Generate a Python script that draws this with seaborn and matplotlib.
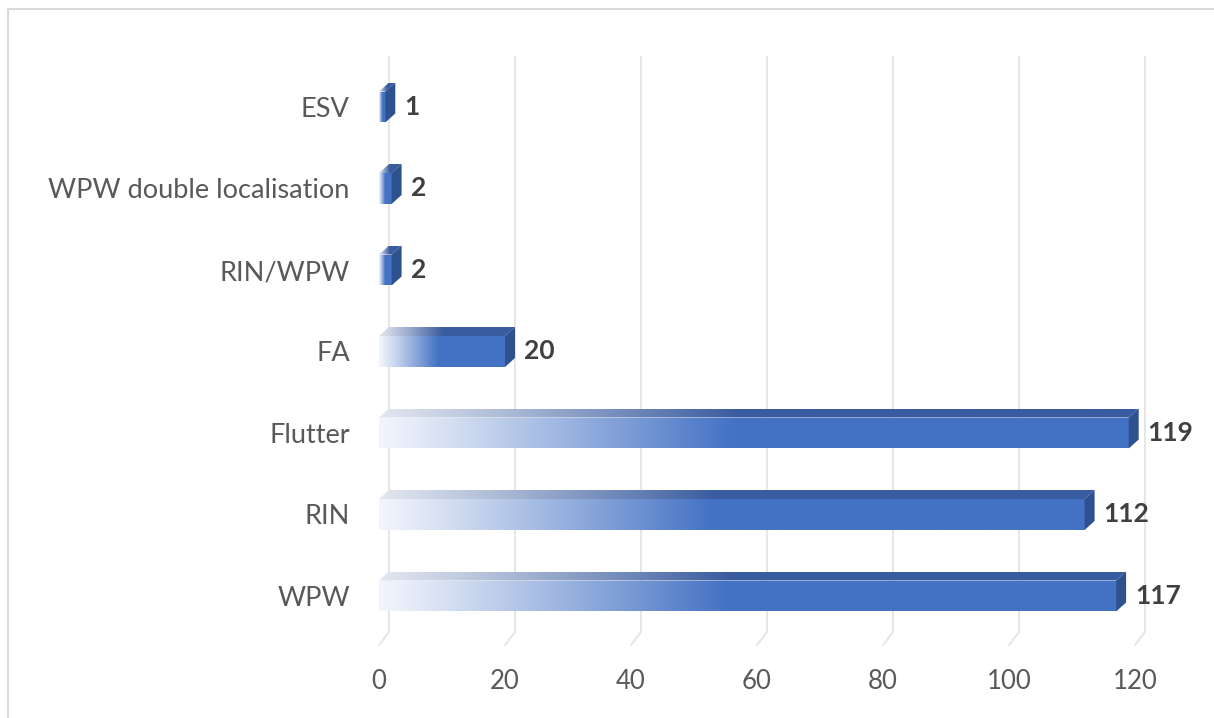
import numpy as np
import pandas as pd
import matplotlib
matplotlib.use("Agg")
import matplotlib.pyplot as plt
from matplotlib.patches import Polygon
from matplotlib.lines import Line2D
from matplotlib.colors import to_rgb
import seaborn as sns

# Data
categories = ["ESV", "WPW double localisation", "RIN/WPW", "FA", "Flutter", "RIN", "WPW"]
counts = [1, 2, 2, 20, 119, 112, 117]
x_ticks = [0, 20, 40, 60, 80, 100, 120]

W, H, DPI = 1214, 718, 100
sns.set_theme(style="white")
plt.rcParams["font.family"] = ["Lato", "DejaVu Sans"]

fig = plt.figure(figsize=(W / DPI, H / DPI), dpi=DPI)

# Layout of the plotting area (pixels)
x0_px, px_per_unit = 379, 6.3
top_px, bot_px, right_px = 57, 645, 1175
first_c, step = 107, 81.5
ax = fig.add_axes([x0_px / W, (H - bot_px) / H,
                   (right_px - x0_px) / W, (bot_px - top_px) / H])

df = pd.DataFrame({"category": categories, "count": counts})
sns.barplot(data=df, x="count", y="category", order=categories, orient="h",
            width=0.38, color="#4472C4", ax=ax, zorder=3)

xmax = (right_px - x0_px) / px_per_unit
y_bottom = (bot_px - first_c) / step
y_top = (top_px - first_c) / step
ax.set_xlim(0, xmax)
ax.set_ylim(y_bottom, y_top)

# 3-D depth offsets in data units
ddx = 10 / px_per_unit
ddy = 9 / step
y_floor = (632 - first_c) / step

# back-wall gridlines with a short floor segment
for v in x_ticks:
    ax.plot([v + ddx, v + ddx, v], [y_top, y_floor, y_bottom], color="#e6e6e6",
            lw=1.4, zorder=1, clip_on=False, solid_capstyle="round")

blue = np.array(to_rgb("#4472C4"))
light = np.array(to_rgb("#F2F5FB"))
top_dark = np.array(to_rgb("#3A5C9F"))
top_light = np.array(to_rgb("#E1E6EF"))
side_col = "#2E5190"


def ramp(c_start, c_end, frac=0.47, n=256):
    t = np.linspace(0, 1, n)
    f = np.clip(t / frac, 0, 1) ** 1.1
    rgb = c_start[None, :] + (c_end - c_start)[None, :] * f[:, None]
    return rgb[None, :, :]


bars = list(ax.patches)
for patch, v in zip(bars, counts):
    x, y = patch.get_x(), patch.get_y()
    w, h = patch.get_width(), patch.get_height()
    patch.set_facecolor("none")
    patch.set_edgecolor("none")

    # front face gradient
    im = ax.imshow(ramp(light, blue), extent=[x, x + w, y + h, y], aspect="auto",
                   interpolation="bilinear", zorder=3)
    im.set_clip_path(patch)

    # top face
    top_poly = Polygon([(x, y), (x + w, y), (x + w + ddx, y - ddy), (x + ddx, y - ddy)],
                       closed=True, facecolor="none", edgecolor="none", zorder=3)
    ax.add_patch(top_poly)
    im2 = ax.imshow(ramp(top_light, top_dark), extent=[x, x + w + ddx, y, y - ddy],
                    aspect="auto", interpolation="bilinear", zorder=3)
    im2.set_clip_path(top_poly)

    # side face
    side = Polygon([(x + w, y), (x + w, y + h), (x + w + ddx, y + h - ddy),
                    (x + w + ddx, y - ddy)], closed=True, facecolor=side_col,
                   edgecolor="none", zorder=4)
    ax.add_patch(side)

    ax.annotate(str(v), xy=(v, y + h / 2), xytext=(19 * 72 / DPI, 0),
                textcoords="offset points", ha="left", va="center",
                fontsize=19, fontweight="bold", color="#404040", zorder=5)

ax.set_xlim(0, xmax)
ax.set_ylim(y_bottom, y_top)

ax.set_xticks(x_ticks)
ax.set_xticklabels([str(t) for t in x_ticks])
ax.set_xlabel("")
ax.set_ylabel("")
ax.tick_params(axis="x", length=0, pad=17, labelsize=18.5, labelcolor="#595959")
ax.tick_params(axis="y", length=0, pad=21, labelsize=19.5, labelcolor="#595959")
sns.despine(ax=ax, left=True, bottom=True)
ax.grid(False)

# outer frame (top and left edges)
fig.add_artist(Line2D([8 / W, 1], [1 - 9 / H, 1 - 9 / H], transform=fig.transFigure,
                      color="#d9d9d9", lw=1.5))
fig.add_artist(Line2D([8 / W, 8 / W], [0, 1 - 9 / H], transform=fig.transFigure,
                      color="#d9d9d9", lw=1.5))

fig.savefig("out.png", dpi=DPI, facecolor="white")
